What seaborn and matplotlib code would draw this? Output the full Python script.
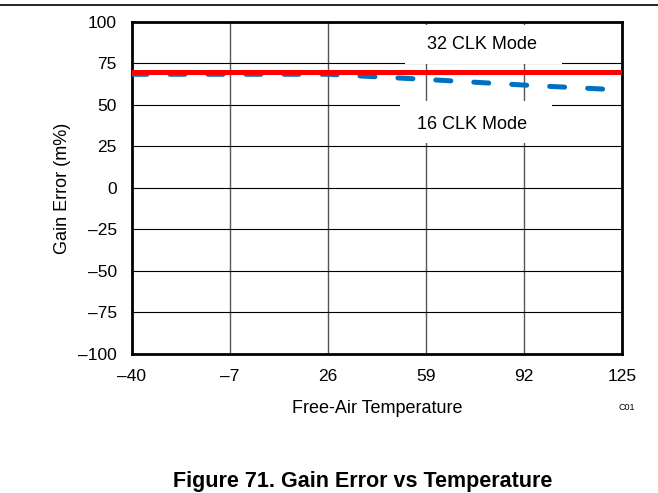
import matplotlib
matplotlib.use("Agg")
import matplotlib.pyplot as plt
import seaborn as sns
import pandas as pd
from matplotlib.patches import Rectangle
from matplotlib.lines import Line2D

# data
temp = [-40, -7, 26, 59, 92, 125]
gain_32clk = [70, 70, 70, 70, 70, 70]
gain_16clk = [68.5, 68.5, 68.5, 65.4, 62, 59]
xticks = [-40, -7, 26, 59, 92, 125]
yticks = [-100, -75, -50, -25, 0, 25, 50, 75, 100]

df = pd.DataFrame({"temp": temp + temp,
                   "gain": gain_32clk + gain_16clk,
                   "mode": ["32 CLK Mode"] * len(temp) + ["16 CLK Mode"] * len(temp)})

sns.set_style("white")
plt.rcParams["font.family"] = ["Liberation Sans", "DejaVu Sans"]
plt.rcParams["text.color"] = "black"
plt.rcParams["axes.labelcolor"] = "black"
plt.rcParams["xtick.color"] = "black"
plt.rcParams["ytick.color"] = "black"

fig = plt.figure(figsize=(6.58, 4.93), dpi=100)
ax = fig.add_axes([0.2006, 0.282, 0.7447, 0.6734])

sns.lineplot(data=df[df["mode"] == "32 CLK Mode"], x="temp", y="gain", ax=ax,
             color="#FF0000", linewidth=3.6, zorder=4, legend=False)
sns.lineplot(data=df[df["mode"] == "16 CLK Mode"], x="temp", y="gain", ax=ax,
             color="#0070C0", linewidth=3.6, zorder=3, legend=False)
blue = ax.get_lines()[-1]
blue.set_dashes((3, 4.6))
blue.set_dash_capstyle("round")

ax.set_xlim(-40, 125)
ax.set_ylim(-100, 100)
ax.set_xticks(xticks)
ax.set_yticks(yticks)
ax.set_xticklabels([str(t).replace("-", "\u2013") for t in xticks])
ax.set_yticklabels([str(t).replace("-", "\u2013") for t in yticks])
ax.tick_params(axis="x", length=0, pad=11, labelsize=12.5)
ax.tick_params(axis="y", length=0, pad=11, labelsize=12.5)

for t in xticks[1:-1]:
    ax.axvline(t, color="#555555", linewidth=1.0, zorder=1)
for v in yticks[1:-1]:
    ax.axhline(v, color="black", linewidth=0.8, zorder=1)

# white label boxes that cut the grid
ax.add_patch(Rectangle((52, 74.6), 52.8, 23.5, facecolor="white", edgecolor="none", zorder=2))
ax.add_patch(Rectangle((50.2, 27.2), 51.2, 25.2, facecolor="white", edgecolor="none", zorder=2))
ax.text(78, 86.5, "32 CLK Mode", ha="center", va="center", fontsize=13, zorder=5)
ax.text(74.5, 38.5, "16 CLK Mode", ha="center", va="center", fontsize=13, zorder=5)

for s in ax.spines.values():
    s.set_color("black")
    s.set_linewidth(2)

ax.set_xlabel("Free-Air Temperature", fontsize=13, labelpad=11)
ax.set_ylabel("Gain Error (m%)", fontsize=13, labelpad=5)

fig.text(627 / 658, 1 - 408 / 493, "C01", fontsize=6.5, ha="center", va="center")
fig.text(363 / 658, 1 - 482 / 493, "Figure 71. Gain Error vs Temperature",
         fontsize=15.5, fontweight="bold", ha="center", va="center")
fig.add_artist(Line2D([0, 1], [1 - 5 / 493, 1 - 5 / 493], color="black", linewidth=1.2))

fig.savefig("out.png", dpi=100)
